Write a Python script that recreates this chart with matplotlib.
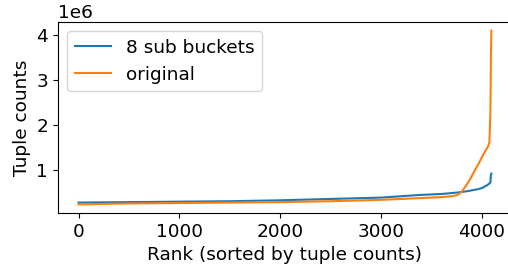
import numpy as np
import matplotlib
matplotlib.use("Agg")
import matplotlib.pyplot as plt

# Datos (rango, cuentas)
rank_sub = [0, 500, 1000, 1500, 2000, 2500, 3000, 3200, 3400, 3600, 3750,
            3850, 3950, 4000, 4050, 4080, 4085, 4090, 4095]
counts_sub = [0.29e6, 0.30e6, 0.31e6, 0.32e6, 0.34e6, 0.37e6, 0.40e6, 0.43e6,
              0.46e6, 0.48e6, 0.51e6, 0.54e6, 0.58e6, 0.61e6, 0.67e6, 0.72e6,
              0.74e6, 0.90e6, 0.93e6]

rank_orig = [0, 500, 1000, 1500, 2000, 2500, 3000, 3200, 3400, 3600, 3700,
             3750, 3780, 3800, 3830, 3860, 3890, 3930, 3975, 4010, 4040, 4060,
             4075, 4085, 4090, 4095]
counts_orig = [0.25e6, 0.27e6, 0.28e6, 0.29e6, 0.30e6, 0.32e6, 0.35e6, 0.37e6,
               0.39e6, 0.41e6, 0.43e6, 0.45e6, 0.49e6, 0.53e6, 0.62e6, 0.72e6,
               0.83e6, 1.0e6, 1.18e6, 1.33e6, 1.45e6, 1.52e6, 1.62e6, 2.29e6,
               3.5e6, 4.09e6]

plt.rcParams['font.size'] = 13.3

fig = plt.figure(figsize=(5.08, 2.67), dpi=100)
ax = fig.add_axes([0.114, 0.202, 0.894, 0.716])

ax.plot(rank_sub, counts_sub, label="8 sub buckets")
ax.plot(rank_orig, counts_orig, label="original")

ax.set_xlabel("Rank (sorted by tuple counts)")
ax.set_ylabel("Tuple counts")
ax.set_xticks([0, 1000, 2000, 3000, 4000])
ax.set_yticks([1e6, 2e6, 3e6, 4e6])
ax.legend(loc="upper left")

fig.savefig("out.png", dpi=100)
